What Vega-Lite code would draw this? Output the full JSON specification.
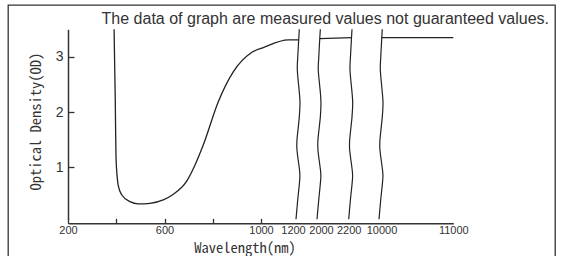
{
  "$schema": "https://vega.github.io/schema/vega-lite/v6.json",
  "width": 547,
  "height": 260,
  "autosize": {"type": "none"},
  "padding": {"left": 8, "top": 5, "right": 6, "bottom": 0},
  "background": "white",
  "title": {
    "text": "The data of graph are measured values not guaranteed values.",
    "anchor": "end",
    "frame": "group",
    "orient": "top",
    "offset": -35,
    "dx": -6,
    "baseline": "alphabetic",
    "font": "Liberation Sans",
    "fontSize": 16,
    "fontWeight": "normal",
    "color": "#333333"
  },
  "config": {
    "view": {"stroke": "#333333", "strokeWidth": 1.3},
    "axis": {"grid": false, "domainColor": "#333333", "domainWidth": 1.5, "tickColor": "#333333", "tickWidth": 1.3, "labelColor": "#333333", "titleColor": "#333333"}
  },
  "datasets": {
    "curve": [
      {"seg": "A", "wl": 391, "od": 3.5},
      {"seg": "A", "wl": 396, "od": 2.19},
      {"seg": "A", "wl": 399, "od": 1.17},
      {"seg": "A", "wl": 408, "od": 0.68},
      {"seg": "A", "wl": 423, "od": 0.5},
      {"seg": "A", "wl": 457, "od": 0.38},
      {"seg": "A", "wl": 491, "od": 0.34},
      {"seg": "A", "wl": 540, "od": 0.35},
      {"seg": "A", "wl": 595, "od": 0.41},
      {"seg": "A", "wl": 632, "od": 0.5},
      {"seg": "A", "wl": 692, "od": 0.75},
      {"seg": "A", "wl": 726, "od": 1.04},
      {"seg": "A", "wl": 761, "od": 1.41},
      {"seg": "A", "wl": 823, "od": 2.19},
      {"seg": "A", "wl": 885, "od": 2.73},
      {"seg": "A", "wl": 961, "od": 3.08},
      {"seg": "A", "wl": 1013, "od": 3.17},
      {"seg": "A", "wl": 1156, "od": 3.31},
      {"seg": "A", "wl": 1303, "od": 3.31},
      {"seg": "B", "wl": 2018, "od": 3.33},
      {"seg": "B", "wl": 2921, "od": 3.35},
      {"seg": "C", "wl": 10038, "od": 3.35},
      {"seg": "C", "wl": 11000, "od": 3.35}
    ],
    "breaks": [
      {"line": "b1", "wl": 1326, "od": 3.5},
      {"line": "b1", "wl": 1303, "od": 3.31},
      {"line": "b1", "wl": 1265, "od": 2.98},
      {"line": "b1", "wl": 1250, "od": 2.76},
      {"line": "b1", "wl": 1326, "od": 2.36},
      {"line": "b1", "wl": 1352, "od": 2.16},
      {"line": "b1", "wl": 1326, "od": 1.91},
      {"line": "b1", "wl": 1238, "od": 1.5},
      {"line": "b1", "wl": 1238, "od": 1.31},
      {"line": "b1", "wl": 1341, "od": 0.92},
      {"line": "b1", "wl": 1341, "od": 0.77},
      {"line": "b1", "wl": 1265, "od": 0.41},
      {"line": "b1", "wl": 1200, "od": 0.06},
      {"line": "b2", "wl": 2021, "od": 3.5},
      {"line": "b2", "wl": 2017, "od": 3.31},
      {"line": "b2", "wl": 2011, "od": 2.98},
      {"line": "b2", "wl": 2008, "od": 2.76},
      {"line": "b2", "wl": 2021, "od": 2.36},
      {"line": "b2", "wl": 2025, "od": 2.16},
      {"line": "b2", "wl": 2021, "od": 1.91},
      {"line": "b2", "wl": 2006, "od": 1.5},
      {"line": "b2", "wl": 2006, "od": 1.31},
      {"line": "b2", "wl": 2023, "od": 0.92},
      {"line": "b2", "wl": 2023, "od": 0.77},
      {"line": "b2", "wl": 2011, "od": 0.41},
      {"line": "b2", "wl": 2000, "od": 0.06},
      {"line": "b3", "wl": 3049, "od": 3.5},
      {"line": "b3", "wl": 2895, "od": 3.31},
      {"line": "b3", "wl": 2638, "od": 2.98},
      {"line": "b3", "wl": 2535, "od": 2.76},
      {"line": "b3", "wl": 3049, "od": 2.36},
      {"line": "b3", "wl": 3230, "od": 2.16},
      {"line": "b3", "wl": 3049, "od": 1.91},
      {"line": "b3", "wl": 2457, "od": 1.5},
      {"line": "b3", "wl": 2457, "od": 1.31},
      {"line": "b3", "wl": 3152, "od": 0.92},
      {"line": "b3", "wl": 3152, "od": 0.77},
      {"line": "b3", "wl": 2638, "od": 0.41},
      {"line": "b3", "wl": 2200, "od": 0.06},
      {"line": "b4", "wl": 10044, "od": 3.5},
      {"line": "b4", "wl": 10036, "od": 3.31},
      {"line": "b4", "wl": 10023, "od": 2.98},
      {"line": "b4", "wl": 10018, "od": 2.76},
      {"line": "b4", "wl": 10044, "od": 2.36},
      {"line": "b4", "wl": 10054, "od": 2.16},
      {"line": "b4", "wl": 10044, "od": 1.91},
      {"line": "b4", "wl": 10013, "od": 1.5},
      {"line": "b4", "wl": 10013, "od": 1.31},
      {"line": "b4", "wl": 10050, "od": 0.92},
      {"line": "b4", "wl": 10050, "od": 0.77},
      {"line": "b4", "wl": 10023, "od": 0.41},
      {"line": "b4", "wl": 10000, "od": 0.06}
    ]
  },
  "encoding": {
    "x": {
      "field": "wl",
      "type": "quantitative",
      "scale": {"domain": [200, 1000, 1200, 2000, 2200, 10000, 11000], "range": [60, 253, 288, 309, 340.7, 371, 445.3], "nice": false, "zero": false},
      "axis": {
        "values": [200, 400, 600, 800, 1000, 1200, 2000, 2200, 10000, 11000],
        "format": "d",
        "labelExpr": "datum.value == 400 || datum.value == 800 ? '' : datum.label",
        "tickOpacity": {"condition": {"test": "datum.value <= 1000", "value": 1}, "value": 0},
        "labelOffset": {"condition": [{"test": "datum.value == 1200", "value": -3}, {"test": "datum.value == 2000", "value": 4}, {"test": "datum.value == 10000", "value": 2.5}], "value": 0},
        "offset": -41.7,
        "tickSize": -5,
        "labelPadding": 6.5,
        "labelOverlap": false,
        "labelFlush": false,
        "labelFont": "Liberation Sans Narrow, Liberation Sans",
        "labelFontSize": 11,
        "title": "Wavelength(nm)",
        "titleFont": "Noto Sans Mono CJK JP, DejaVu Sans Mono",
        "titleFontSize": 14.5,
        "titleFontWeight": "normal",
        "titleX": 236.5,
        "titleY": 29,
        "titleAlign": "center",
        "titleAnchor": null,
        "titleBaseline": "alphabetic"
      }
    },
    "y": {
      "field": "od",
      "type": "quantitative",
      "scale": {"domain": [0.06, 3.5], "range": [214.3, 24.3], "nice": false, "zero": false},
      "axis": {
        "values": [1, 2, 3],
        "offset": -60,
        "tickSize": -6,
        "labelPadding": 11,
        "labelFont": "Liberation Sans Narrow, Liberation Sans",
        "labelFontSize": 14,
        "title": "Optical Density(OD)",
        "titleFont": "Noto Sans Mono CJK JP, DejaVu Sans Mono",
        "titleFontSize": 14.5,
        "titleFontWeight": "normal",
        "titleX": -28,
        "titleY": 116,
        "titleAngle": -90,
        "titleAlign": "center",
        "titleAnchor": null,
        "titleBaseline": "alphabetic"
      }
    }
  },
  "layer": [
    {
      "data": {"name": "curve"},
      "mark": {"type": "line", "color": "#222222", "strokeWidth": 1.3, "interpolate": "monotone"},
      "encoding": {"detail": {"field": "seg"}}
    },
    {
      "data": {"name": "breaks"},
      "mark": {"type": "line", "color": "#222222", "strokeWidth": 1.2, "interpolate": "cardinal"},
      "encoding": {"detail": {"field": "line"}, "order": {"field": "od", "type": "quantitative"}}
    }
  ]
}
